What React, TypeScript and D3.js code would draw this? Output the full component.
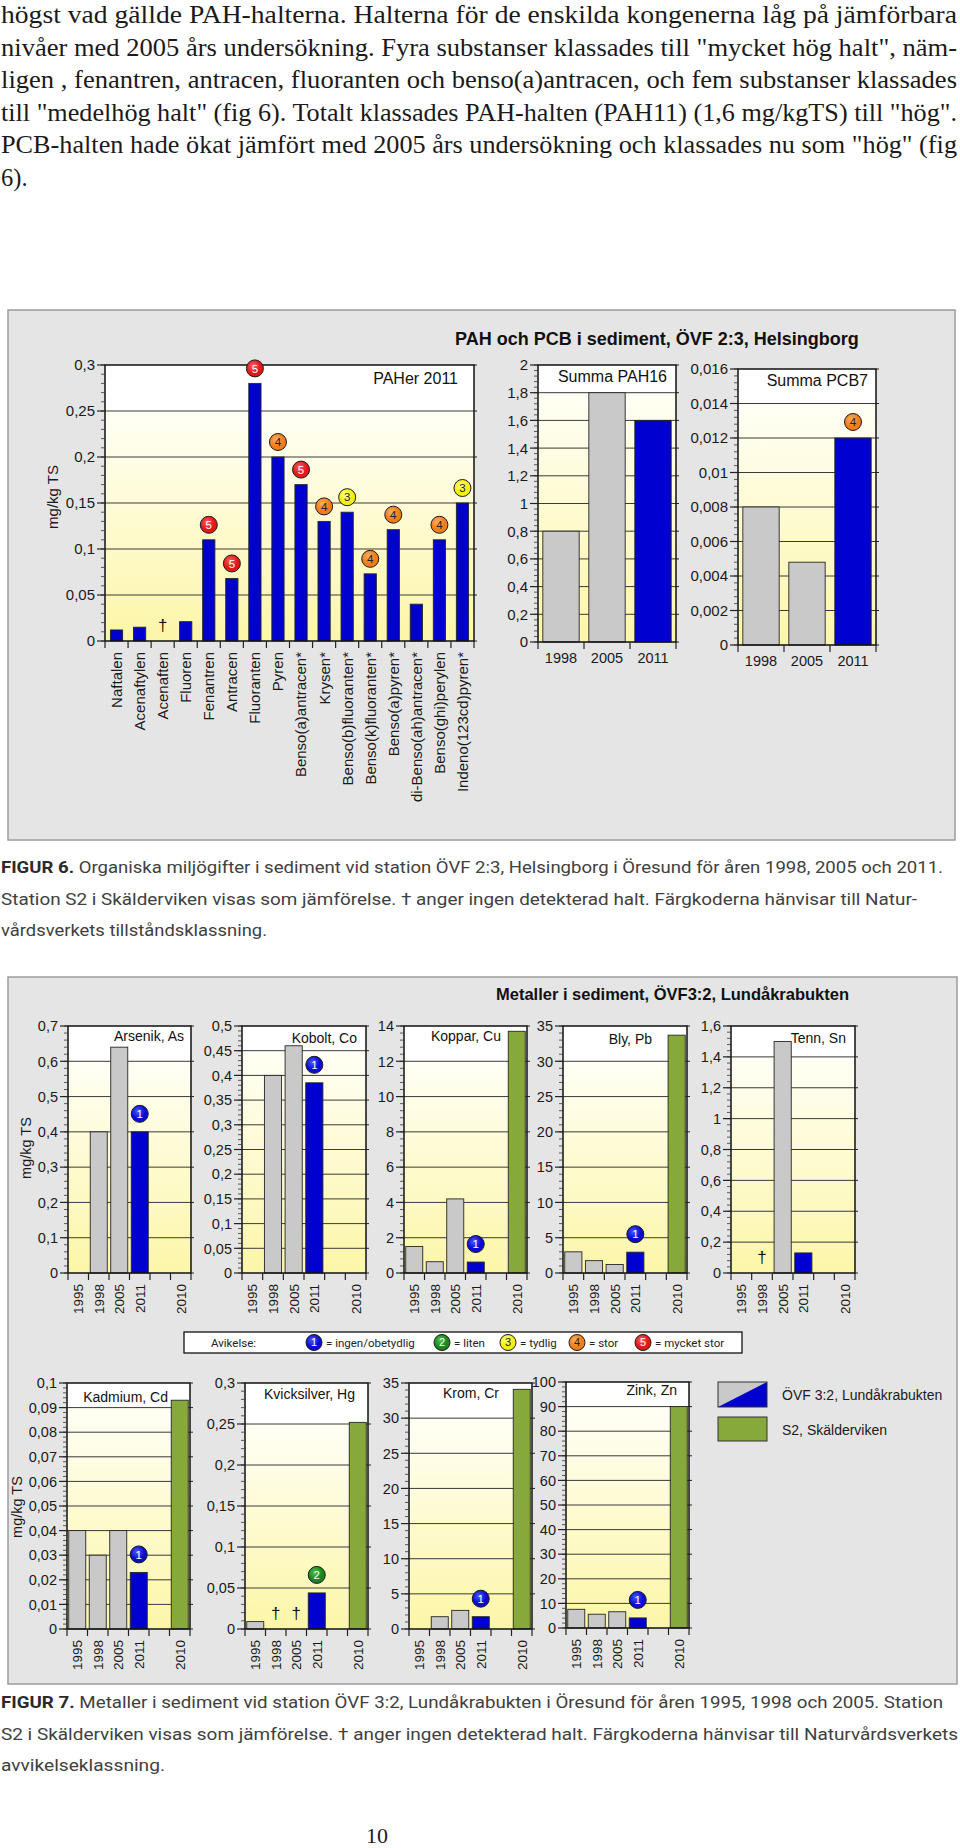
import React from "react";
import * as d3 from "d3";

// ---------------- DATA ----------------
const BODY_LINES = [
  "högst vad gällde PAH-halterna. Halterna för de enskilda kongenerna låg på jämförbara",
  "nivåer med 2005 års undersökning. Fyra substanser klassades till \"mycket hög halt\", näm-",
  "ligen , fenantren, antracen, fluoranten och benso(a)antracen, och fem substanser klassades",
  "till \"medelhög halt\" (fig 6). Totalt klassades PAH-halten (PAH11) (1,6 mg/kgTS) till \"hög\".",
  "PCB-halten hade ökat jämfört med 2005 års undersökning och klassades nu som \"hög\" (fig",
  "6).",
];

const PAH_TITLE = "PAH och PCB i sediment, ÖVF 2:3, Helsingborg";
const PAH_CATS = [
  "Naftalen", "Acenaftylen", "Acenaften", "Fluoren", "Fenantren", "Antracen", "Fluoranten", "Pyren",
  "Benso(a)antracen*", "Krysen*", "Benso(b)fluoranten*", "Benso(k)fluoranten*", "Benso(a)pyren*",
  "di-Benso(ah)antracen*", "Benso(ghi)perylen", "Indeno(123cd)pyren*",
];
const PAH_VALUES: (number | null)[] = [
  0.012, 0.015, null, 0.021, 0.11, 0.068, 0.28, 0.2, 0.17, 0.13, 0.14, 0.073, 0.121, 0.04, 0.11, 0.15,
];
const PAH_CLASSES = [0, 0, 0, 0, 5, 5, 5, 4, 5, 4, 3, 4, 4, 0, 4, 3];
const PAH_DAGGER = [false, false, true, false, false, false, false, false, false, false, false, false, false, false, false, false];
const PAH_TICKS = ["0", "0,05", "0,1", "0,15", "0,2", "0,25", "0,3"];

const SUM_YEARS = ["1998", "2005", "2011"];
const PAH16_VALUES = [0.8, 1.8, 1.6];
const PAH16_CLASSES = [0, 0, 0];
const PAH16_TICKS = ["0", "0,2", "0,4", "0,6", "0,8", "1", "1,2", "1,4", "1,6", "1,8", "2"];
const PCB7_VALUES = [0.008, 0.0048, 0.012];
const PCB7_CLASSES = [0, 0, 4];
const PCB7_TICKS = ["0", "0,002", "0,004", "0,006", "0,008", "0,01", "0,012", "0,014", "0,016"];
const SUM_SERIES = ["gray", "gray", "blue"];

const METAL_TITLE = "Metaller i sediment, ÖVF3:2, Lundåkrabukten";
const METAL_YEARS = ["1995", "1998", "2005", "2011", "", "2010"];
const METAL_SERIES = ["gray", "gray", "gray", "blue", "none", "green"];

const ARSENIK = [null, 0.4, 0.64, 0.4, null, null];
const ARSENIK_CLASS = [0, 0, 0, 1, 0, 0];
const ARSENIK_TICKS = ["0", "0,1", "0,2", "0,3", "0,4", "0,5", "0,6", "0,7"];

const KOBOLT = [null, 0.4, 0.46, 0.385, null, null];
const KOBOLT_CLASS = [0, 0, 0, 1, 0, 0];
const KOBOLT_TICKS = ["0", "0,05", "0,1", "0,15", "0,2", "0,25", "0,3", "0,35", "0,4", "0,45", "0,5"];

const KOPPAR = [1.5, 0.64, 4.2, 0.62, null, 13.7];
const KOPPAR_CLASS = [0, 0, 0, 1, 0, 0];
const KOPPAR_TICKS = ["0", "2", "4", "6", "8", "10", "12", "14"];

const BLY = [3.0, 1.75, 1.2, 2.95, null, 33.7];
const BLY_CLASS = [0, 0, 0, 1, 0, 0];
const BLY_TICKS = ["0", "5", "10", "15", "20", "25", "30", "35"];

const TENN = [null, null, 1.5, 0.13, null, null];
const TENN_CLASS = [0, 0, 0, 0, 0, 0];
const TENN_DAGGER = [false, true, false, false, false, false];
const TENN_TICKS = ["0", "0,2", "0,4", "0,6", "0,8", "1", "1,2", "1,4", "1,6"];

const KADMIUM = [0.04, 0.03, 0.04, 0.023, null, 0.093];
const KADMIUM_CLASS = [0, 0, 0, 1, 0, 0];
const KADMIUM_TICKS = ["0", "0,01", "0,02", "0,03", "0,04", "0,05", "0,06", "0,07", "0,08", "0,09", "0,1"];

const KVICKSILVER = [0.009, null, null, 0.044, null, 0.252];
const KVICKSILVER_CLASS = [0, 0, 0, 2, 0, 0];
const KVICKSILVER_DAGGER = [false, true, true, false, false, false];
const KVICKSILVER_TICKS = ["0", "0,05", "0,1", "0,15", "0,2", "0,25", "0,3"];

const KROM = [null, 1.75, 2.65, 1.75, null, 34.1];
const KROM_CLASS = [0, 0, 0, 1, 0, 0];
const KROM_TICKS = ["0", "5", "10", "15", "20", "25", "30", "35"];

const ZINK = [7.6, 5.6, 6.6, 4.1, null, 90];
const ZINK_CLASS = [0, 0, 0, 1, 0, 0];
const ZINK_TICKS = ["0", "10", "20", "30", "40", "50", "60", "70", "80", "90", "100"];

const NO_DAGGER = [false, false, false, false, false, false];

const LEGEND_CLASSES = [1, 2, 3, 4, 5];
const LEGEND_TEXTS = ["= ingen/obetydlig", "= liten", "= tydlig", "= stor", "= mycket stor"];
const SERIES_LEGEND = ["ÖVF 3:2, Lundåkrabukten", "S2, Skälderviken"];

const CAPTION6 = [
  ["FIGUR 6.", " Organiska miljögifter i sediment vid station ÖVF 2:3, Helsingborg i Öresund för åren 1998, 2005 och 2011."],
  ["", "Station S2 i Skälderviken  visas som jämförelse. † anger ingen detekterad halt. Färgkoderna hänvisar till Natur-"],
  ["", "vårdsverkets tillståndsklassning."],
];
const CAPTION7 = [
  ["FIGUR 7.", " Metaller i sediment vid station ÖVF 3:2, Lundåkrabukten i Öresund för åren 1995, 1998 och 2005. Station"],
  ["", "S2 i Skälderviken  visas som jämförelse. † anger ingen detekterad halt. Färgkoderna hänvisar till Naturvårdsverkets"],
  ["", "avvikelseklassning."],
];

// ---------------- STYLE ----------------
const FILLS: Record<string, string> = { gray: "#c9c9c9", blue: "#0000cf", green: "#87a83a", none: "none" };
const BADGE: Record<number, { base: string; light: string; text: string }> = {
  1: { base: "#0a0ad2", light: "#4a5cff", text: "#ffffff" },
  2: { base: "#1b861b", light: "#52c052", text: "#ffffff" },
  3: { base: "#f4ef12", light: "#ffff8a", text: "#222222" },
  4: { base: "#ef7d1c", light: "#ffb060", text: "#222222" },
  5: { base: "#e01818", light: "#ff6060", text: "#ffffff" },
};
const SANS = "'Liberation Sans', Arimo, Arial, Helvetica, sans-serif";
const SERIF = "'Liberation Serif', 'DejaVu Serif', serif";
const COND = "'Liberation Sans Narrow', Roboto, 'Liberation Sans', sans-serif";

const parseTick = (s: string) => +s.replace(",", ".");

function Badge({ cx, cy, cls, r = 8.5, fs = 11.5 }: { cx: number; cy: number; cls: number; r?: number; fs?: number }) {
  const c = BADGE[cls];
  return (
    <g>
      <circle cx={cx} cy={cy} r={r} fill={`url(#badge${cls})`} stroke="#1a1a1a" strokeWidth={1} />
      <text x={cx} y={cy} dy="0.36em" textAnchor="middle" fontSize={fs} fill={c.text} fontFamily={SANS}>
        {cls}
      </text>
    </g>
  );
}

type PanelProps = {
  id: string;
  left: number;
  top: number;
  right: number;
  bottom: number;
  tickLabels: string[];
  cats: string[];
  values: (number | null)[];
  series: string[];
  classes: number[];
  daggers: boolean[];
  title: string;
  titleX: number;
  titleY: number;
  titleSize: number;
  rotate: boolean;
  labelSize: number;
  tickSize: number;
  barFrac: number;
  badgeGap: number;
};

function BarPanel(p: PanelProps) {
  const ticks = p.tickLabels.map(parseTick);
  const max = ticks[ticks.length - 1];
  const step = ticks[1] - ticks[0];
  const y = d3.scaleLinear().domain([0, max]).range([p.bottom, p.top]);
  const x = d3
    .scaleBand<number>()
    .domain(d3.range(p.cats.length))
    .range([p.left, p.right]);
  const bw = x.bandwidth() * p.barFrac;
  const minor = d3.range(0, Math.round(max / (step / 5)) + 1).map((i) => (i * step) / 5);
  const gradId = `grad-${p.id}`;
  const boundaries = d3.range(p.cats.length + 1).map((i) => p.left + i * x.step());
  return (
    <g>
      <defs>
        <linearGradient id={gradId} x1="0" y1="0" x2="0" y2="1">
          <stop offset="0" stopColor="#fffff6" />
          <stop offset="1" stopColor="#fcf6a8" />
        </linearGradient>
      </defs>
      <rect x={p.left} y={p.top} width={p.right - p.left} height={p.bottom - p.top} fill="#ffffff" />
      <rect
        x={p.left}
        y={y(max - step)}
        width={p.right - p.left}
        height={p.bottom - y(max - step)}
        fill={`url(#${gradId})`}
      />
      {ticks.slice(1, -1).map((t, i) => (
        <line key={i} x1={p.left} x2={p.right} y1={y(t)} y2={y(t)} stroke="#3a3a3a" strokeWidth={1} />
      ))}
      {p.values.map((v, i) =>
        v == null || p.series[i] === "none" ? null : (
          <rect
            key={i}
            x={(x(i) as number) + (x.bandwidth() - bw) / 2}
            y={y(v)}
            width={bw}
            height={p.bottom - y(v)}
            fill={FILLS[p.series[i]]}
            stroke="#262626"
            strokeWidth={0.9}
          />
        )
      )}
      <text
        x={p.titleX}
        y={p.titleY}
        textAnchor="end"
        fontSize={p.titleSize}
        fontFamily={SANS}
        fill="#111"
      >
        {p.title}
      </text>
      <rect
        x={p.left}
        y={p.top}
        width={p.right - p.left}
        height={p.bottom - p.top}
        fill="none"
        stroke="#111"
        strokeWidth={1.5}
      />
      {minor.map((t, i) => (
        <line key={i} x1={p.left - 4} x2={p.left} y1={y(t)} y2={y(t)} stroke="#333" strokeWidth={0.8} />
      ))}
      {ticks.map((t, i) => (
        <g key={i}>
          <line x1={p.left - 8} x2={p.left} y1={y(t)} y2={y(t)} stroke="#222" strokeWidth={1.2} />
          <line x1={p.right} x2={p.right + 3} y1={y(t)} y2={y(t)} stroke="#222" strokeWidth={1} />
          <text
            x={p.left - 10}
            y={y(t)}
            dy="0.36em"
            textAnchor="end"
            fontSize={p.tickSize}
            fontFamily={SANS}
            fill="#1a1a1a"
          >
            {p.tickLabels[i]}
          </text>
        </g>
      ))}
      {boundaries.map((bx, i) => (
        <line key={i} x1={bx} x2={bx} y1={p.bottom} y2={p.bottom + 7} stroke="#222" strokeWidth={1.2} />
      ))}
      {p.cats.map((c, i) => {
        const cx = (x(i) as number) + x.bandwidth() / 2;
        return p.rotate ? (
          <text
            key={i}
            transform={`translate(${cx},${p.bottom + 11}) rotate(-90)`}
            dy="0.36em"
            textAnchor="end"
            fontSize={p.labelSize}
            fontFamily={SANS}
            fill="#1a1a1a"
          >
            {c}
          </text>
        ) : (
          <text
            key={i}
            x={cx}
            y={p.bottom + 21}
            textAnchor="middle"
            fontSize={p.labelSize}
            fontFamily={SANS}
            fill="#1a1a1a"
          >
            {c}
          </text>
        );
      })}
      {p.daggers.map((d, i) =>
        d ? (
          <text
            key={i}
            x={(x(i) as number) + x.bandwidth() / 2}
            y={p.bottom - 10}
            textAnchor="middle"
            fontSize={17}
            fontFamily={SANS}
            fill="#111"
          >
            †
          </text>
        ) : null
      )}
      {p.classes.map((c, i) => {
        const v = p.values[i];
        if (!c || v == null) return null;
        return <Badge key={i} cx={(x(i) as number) + x.bandwidth() / 2} cy={y(v) - p.badgeGap} cls={c} />;
      })}
    </g>
  );
}

const pahMain: PanelProps = {
  id: "pah", left: 105, top: 365, right: 474, bottom: 641,
  tickLabels: PAH_TICKS, cats: PAH_CATS, values: PAH_VALUES,
  series: PAH_CATS.map(() => "blue"), classes: PAH_CLASSES, daggers: PAH_DAGGER,
  title: "PAHer 2011", titleX: 458, titleY: 384, titleSize: 16,
  rotate: true, labelSize: 15, tickSize: 15, barFrac: 0.53, badgeGap: 15,
};
const pah16: PanelProps = {
  id: "pah16", left: 538, top: 365, right: 676, bottom: 642,
  tickLabels: PAH16_TICKS, cats: SUM_YEARS, values: PAH16_VALUES,
  series: SUM_SERIES, classes: PAH16_CLASSES, daggers: [false, false, false],
  title: "Summa PAH16", titleX: 667, titleY: 382, titleSize: 16,
  rotate: false, labelSize: 14.5, tickSize: 15, barFrac: 0.79, badgeGap: 16,
};
const pcb7: PanelProps = {
  id: "pcb7", left: 738, top: 369, right: 876, bottom: 645,
  tickLabels: PCB7_TICKS, cats: SUM_YEARS, values: PCB7_VALUES,
  series: SUM_SERIES, classes: PCB7_CLASSES, daggers: [false, false, false],
  title: "Summa PCB7", titleX: 868, titleY: 386, titleSize: 16,
  rotate: false, labelSize: 14.5, tickSize: 15, barFrac: 0.79, badgeGap: 16,
};

function metal(
  id: string, left: number, right: number, top: number, bottom: number,
  ticks: string[], values: (number | null)[], classes: number[], daggers: boolean[],
  title: string, titleX: number, titleY: number
): PanelProps {
  return {
    id, left, right, top, bottom, tickLabels: ticks, cats: METAL_YEARS, values,
    series: METAL_SERIES, classes, daggers, title, titleX, titleY, titleSize: 14,
    rotate: true, labelSize: 13.5, tickSize: 14.5, barFrac: 0.83, badgeGap: 18,
  };
}

const METAL_PANELS: PanelProps[] = [
  metal("as", 68, 191, 1026, 1273, ARSENIK_TICKS, ARSENIK, ARSENIK_CLASS, NO_DAGGER, "Arsenik, As", 184, 1041),
  metal("co", 242, 366, 1026, 1273, KOBOLT_TICKS, KOBOLT, KOBOLT_CLASS, NO_DAGGER, "Kobolt, Co", 357, 1043),
  metal("cu", 404, 527, 1026, 1273, KOPPAR_TICKS, KOPPAR, KOPPAR_CLASS, NO_DAGGER, "Koppar, Cu", 501, 1041),
  metal("pb", 563, 687, 1026, 1273, BLY_TICKS, BLY, BLY_CLASS, NO_DAGGER, "Bly, Pb", 652, 1044),
  metal("sn", 731, 855, 1026, 1273, TENN_TICKS, TENN, TENN_CLASS, TENN_DAGGER, "Tenn, Sn", 846, 1043),
  metal("cd", 67, 190, 1383, 1629, KADMIUM_TICKS, KADMIUM, KADMIUM_CLASS, NO_DAGGER, "Kadmium, Cd", 168, 1402),
  metal("hg", 245, 368, 1383, 1629, KVICKSILVER_TICKS, KVICKSILVER, KVICKSILVER_CLASS, KVICKSILVER_DAGGER, "Kvicksilver, Hg", 355, 1399),
  metal("cr", 409, 532, 1383, 1629, KROM_TICKS, KROM, KROM_CLASS, NO_DAGGER, "Krom, Cr", 499, 1398),
  metal("zn", 566, 689, 1382, 1628, ZINK_TICKS, ZINK, ZINK_CLASS, NO_DAGGER, "Zink, Zn", 677, 1395),
];

const BODY_WIDTHS = [956, 956, 956, 956, 956, 0];
const CAP6_WIDTHS = [942, 916, 266];
const CAP7_WIDTHS = [942, 957, 164];
const LEGEND_CX = [314, 442, 508, 577, 643];

function Caption({ lines, widths, y0 }: { lines: string[][]; widths: number[]; y0: number }) {
  return (
    <g>
      {lines.map((l, i) => (
        <text
          key={i}
          x={1}
          y={y0 + i * 31.5}
          fontSize={17}
          fontFamily={COND}
          fill="#404040"
          textLength={widths[i]}
          lengthAdjust="spacingAndGlyphs"
        >
          {l[0] ? (
            <tspan fontWeight="bold" fill="#2a2a2a">
              {l[0]}
            </tspan>
          ) : null}
          {l[1]}
        </text>
      ))}
    </g>
  );
}

export default function App() {
  return (
    <svg
      width={960}
      height={1848}
      viewBox="0 0 960 1848"
      style={{ position: "absolute", left: 0, top: 0, display: "block", background: "#ffffff" }}
    >
      <defs>
        {[1, 2, 3, 4, 5].map((c) => (
          <radialGradient key={c} id={`badge${c}`} cx="40%" cy="35%" r="70%">
            <stop offset="0" stopColor={BADGE[c].light} />
            <stop offset="0.6" stopColor={BADGE[c].base} />
            <stop offset="1" stopColor={BADGE[c].base} />
          </radialGradient>
        ))}
      </defs>
      <rect x={0} y={0} width={960} height={1848} fill="#ffffff" />

      {/* body text */}
      {BODY_LINES.map((l, i) => (
        <text
          key={i}
          x={1}
          y={23 + i * 32.5}
          fontSize={24.5}
          fontFamily={SERIF}
          fill="#1a1a1a"
          {...(BODY_WIDTHS[i] ? { textLength: BODY_WIDTHS[i], lengthAdjust: "spacingAndGlyphs" } : {})}
        >
          {l}
        </text>
      ))}

      {/* Figure 6 */}
      <rect x={8} y={310} width={947} height={530} fill="#e5e5e5" stroke="#9c9c9c" strokeWidth={1.5} />
      <text x={455} y={345} fontSize={18} fontWeight="bold" fontFamily={SANS} fill="#111">
        {PAH_TITLE}
      </text>
      <text
        transform="translate(53,497) rotate(-90)"
        dy="0.36em"
        textAnchor="middle"
        fontSize={15}
        fontFamily={SANS}
        fill="#1a1a1a"
      >
        mg/kg TS
      </text>
      <BarPanel {...pahMain} />
      <BarPanel {...pah16} />
      <BarPanel {...pcb7} />

      <Caption lines={CAPTION6} widths={CAP6_WIDTHS} y0={873} />

      {/* Figure 7 */}
      <rect x={8} y={977} width={949} height={707} fill="#e5e5e5" stroke="#9c9c9c" strokeWidth={1.5} />
      <text x={496} y={1000} fontSize={16.5} fontWeight="bold" fontFamily={SANS} fill="#111">
        {METAL_TITLE}
      </text>
      <text
        transform="translate(26,1148) rotate(-90)"
        dy="0.36em"
        textAnchor="middle"
        fontSize={14.5}
        fontFamily={SANS}
        fill="#1a1a1a"
      >
        mg/kg TS
      </text>
      <text
        transform="translate(17,1507) rotate(-90)"
        dy="0.36em"
        textAnchor="middle"
        fontSize={14.5}
        fontFamily={SANS}
        fill="#1a1a1a"
      >
        mg/kg TS
      </text>
      {METAL_PANELS.map((p) => (
        <BarPanel key={p.id} {...p} />
      ))}

      {/* class legend */}
      <rect x={184} y={1332} width={558} height={21} fill="#ffffff" stroke="#111" strokeWidth={1.3} />
      <text x={211} y={1343} dy="0.36em" fontSize={11.5} fontFamily={COND} fill="#222">
        Avikelse:
      </text>
      {LEGEND_CLASSES.map((c, i) => (
        <g key={c}>
          <Badge cx={LEGEND_CX[i]} cy={1342.5} cls={c} r={8} fs={11} />
          <text x={LEGEND_CX[i] + 12} y={1343} dy="0.36em" fontSize={11.5} fontFamily={COND} fill="#222">
            {LEGEND_TEXTS[i]}
          </text>
        </g>
      ))}

      {/* series legend */}
      <g>
        <rect x={718} y={1382} width={49} height={25} fill={FILLS.gray} />
        <polygon points="718,1407 767,1382 767,1407" fill={FILLS.blue} />
        <rect x={718} y={1382} width={49} height={25} fill="none" stroke="#333" strokeWidth={1} />
        <rect x={718} y={1417} width={49} height={24} fill={FILLS.green} stroke="#333" strokeWidth={1} />
        <text x={782} y={1400} fontSize={14} fontFamily={SANS} fill="#1a1a1a">
          {SERIES_LEGEND[0]}
        </text>
        <text x={782} y={1435} fontSize={14} fontFamily={SANS} fill="#1a1a1a">
          {SERIES_LEGEND[1]}
        </text>
      </g>

      <Caption lines={CAPTION7} widths={CAP7_WIDTHS} y0={1708} />

      <text x={377} y={1843} textAnchor="middle" fontSize={22} fontFamily={SERIF} fill="#1a1a1a">
        10
      </text>
    </svg>
  );
}
